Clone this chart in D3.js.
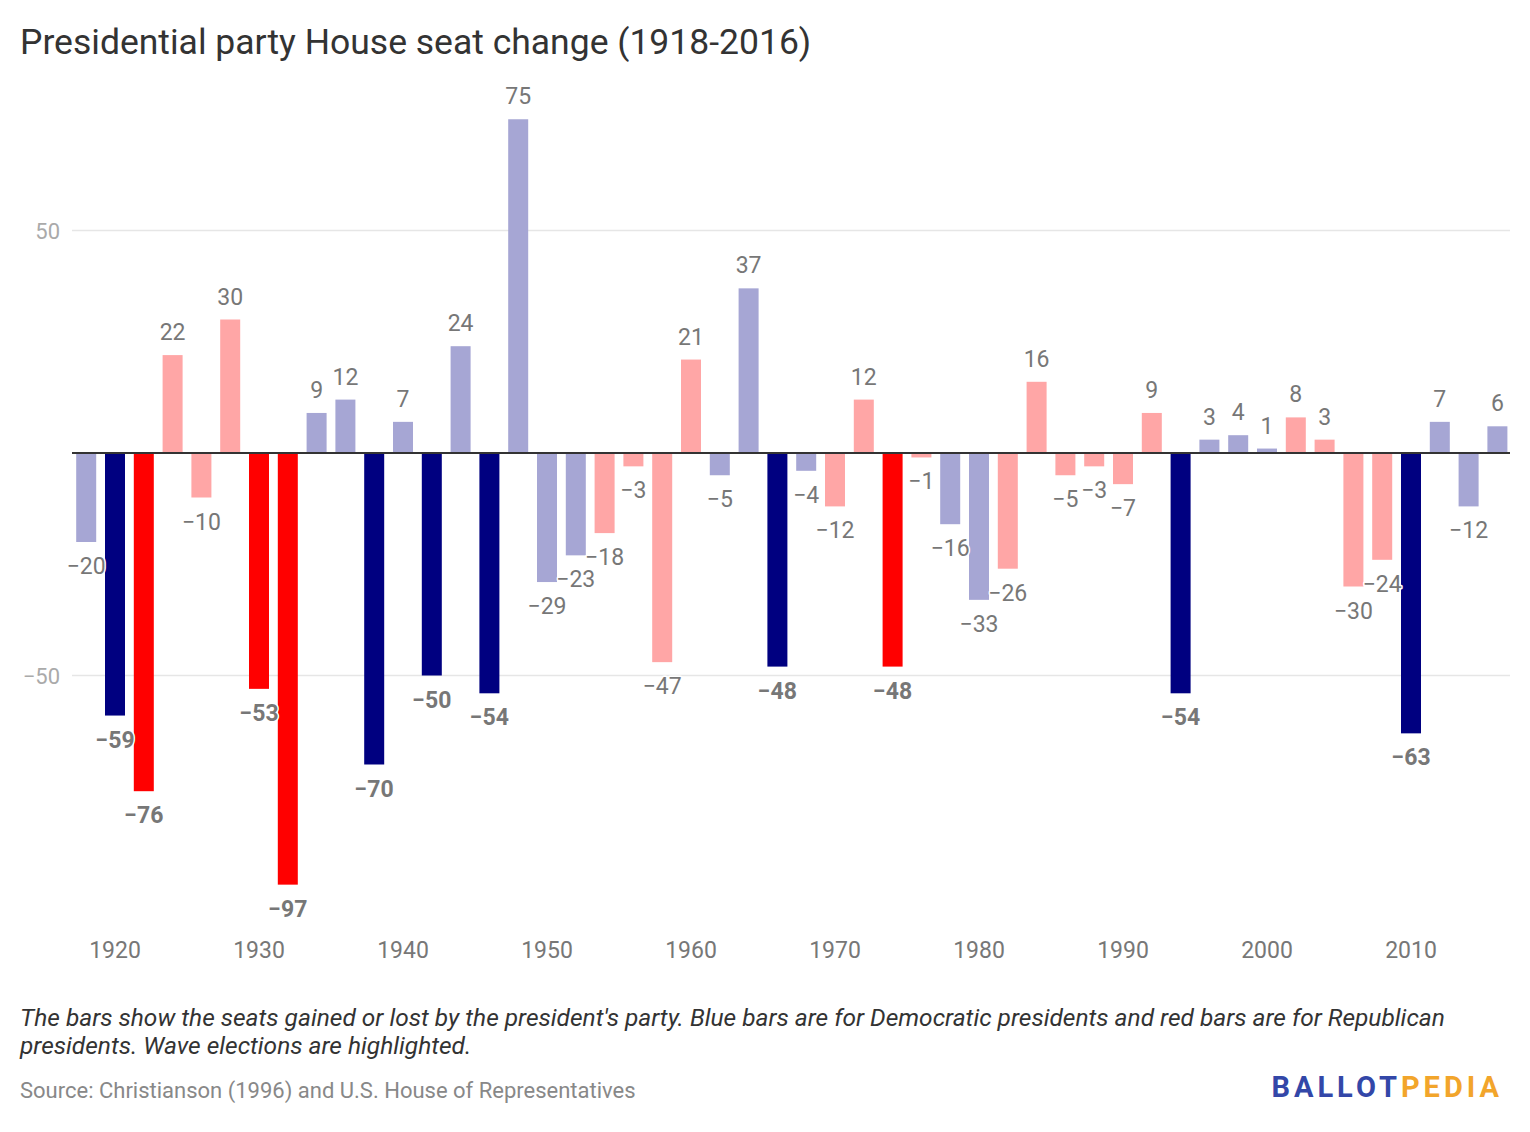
<!DOCTYPE html>
<html>
<head>
<meta charset="utf-8">
<script src="https://cdn.jsdelivr.net/npm/d3@7"></script>
<style>
  body{margin:0;background:#fff;font-family:Roboto,sans-serif;}
  .val{paint-order:stroke;stroke:#fff;stroke-width:3px;stroke-linejoin:round;}
</style>
</head>
<body>
<svg id="chart" width="1530" height="1132"></svg>
<script>
// election years and seat change for the president's party
var years = d3.range(1918, 2017, 2);
var seats = [-20,-59,-76,22,-10,30,-53,-97,9,12,-70,7,-50,24,-54,75,-29,-23,-18,-3,
             -47,21,-5,37,-48,-4,-12,12,-48,-1,-16,-33,-26,16,-5,-3,-7,9,-54,3,
             4,1,8,3,-30,-24,-63,7,-12,6];
// D = Democratic president, R = Republican president
var party = ['D','D','R','R','R','R','R','R','D','D','D','D','D','D','D','D','D','D','R','R',
             'R','R','D','D','D','D','R','R','R','R','D','D','R','R','R','R','R','R','D','D',
             'D','D','R','R','R','R','D','D','D','D'];
var waves = [1920,1922,1930,1932,1938,1942,1946,1966,1974,1994,2010];
var yTicks = [50, 0, -50];
var xTicks = [1920,1930,1940,1950,1960,1970,1980,1990,2000,2010];

var data = years.map(function(y,i){
  return {year:y, v:seats[i], party:party[i], wave:waves.indexOf(y) > -1};
});

var svg = d3.select('#chart');

var x = d3.scaleLinear().domain([1920, 2010]).range([115, 1411]);
var y = d3.scaleLinear().domain([0, 50]).range([453, 230.5]);
var barW = 20;

function color(d){
  if(d.party == 'D') return d.wave ? '#000080' : '#a6a6d4';
  return d.wave ? '#ff0000' : '#ffa6a6';
}

//Title
svg.append('text').attr('x',20).attr('y',54)
  .style('font-size','35.5px').style('fill','#333')
  .text('Presidential party House seat change (1918-2016)');

//Grid lines
svg.selectAll('.grid').data(yTicks.filter(function(d){return d != 0;}))
  .enter().append('line').attr('class','grid')
  .attr('x1',72).attr('x2',1510)
  .attr('y1',function(d){return y(d);}).attr('y2',function(d){return y(d);})
  .style('stroke','#e6e6e6').style('stroke-width',1.5);

svg.selectAll('.ytick').data(yTicks.filter(function(d){return d != 0;}))
  .enter().append('text').attr('class','ytick')
  .attr('x',60).attr('y',function(d){return y(d)+8;})
  .attr('text-anchor','end')
  .style('font-size','22px').style('fill','#aaa')
  .text(function(d){return d < 0 ? '\u2212' + Math.abs(d) : d;});

//Bars
svg.selectAll('.bar').data(data)
  .enter().append('rect').attr('class','bar')
  .attr('x',function(d){return x(d.year) - barW/2;})
  .attr('width',barW)
  .attr('y',function(d){return d.v >= 0 ? y(d.v) : y(0);})
  .attr('height',function(d){return Math.abs(y(d.v) - y(0));})
  .style('fill',color);

//Zero line
svg.append('line').attr('x1',72).attr('x2',1510)
  .attr('y1',y(0)).attr('y2',y(0))
  .style('stroke','#333').style('stroke-width',2);

//Value labels
svg.selectAll('.val').data(data)
  .enter().append('text').attr('class','val')
  .attr('x',function(d){return x(d.year);})
  .attr('y',function(d){return d.v >= 0 ? y(d.v) - 15 : y(d.v) + 32;})
  .attr('text-anchor','middle')
  .style('font-size','23px')
  .style('font-weight',function(d){return d.wave ? 'bold' : 'normal';})
  .style('fill','#777')
  .text(function(d){return d.v < 0 ? '\u2212' + Math.abs(d.v) : d.v;});

//X axis labels
svg.selectAll('.xtick').data(xTicks)
  .enter().append('text').attr('class','xtick')
  .attr('x',function(d){return x(d);}).attr('y',958)
  .attr('text-anchor','middle')
  .style('font-size','23px').style('fill','#777')
  .text(function(d){return d;});

//Notes
var note = svg.append('text').style('font-size','24.5px').style('font-style','italic').style('fill','#333');
note.append('tspan').attr('x',20).attr('y',1026)
  .text("The bars show the seats gained or lost by the president's party. Blue bars are for Democratic presidents and red bars are for Republican");
note.append('tspan').attr('x',20).attr('y',1054)
  .text('presidents. Wave elections are highlighted.');

svg.append('text').attr('x',20).attr('y',1098)
  .style('font-size','22px').style('fill','#888')
  .text('Source: Christianson (1996) and U.S. House of Representatives');

//Logo
var logo = svg.append('text').attr('x',1503).attr('y',1097).attr('text-anchor','end')
  .style('font-size','29px').style('font-weight','bold').style('letter-spacing','4px');
logo.append('tspan').style('fill','#3347a8').text('BALLOT');
logo.append('tspan').style('fill','#f2a52b').text('PEDIA');
</script>
</body>
</html>
